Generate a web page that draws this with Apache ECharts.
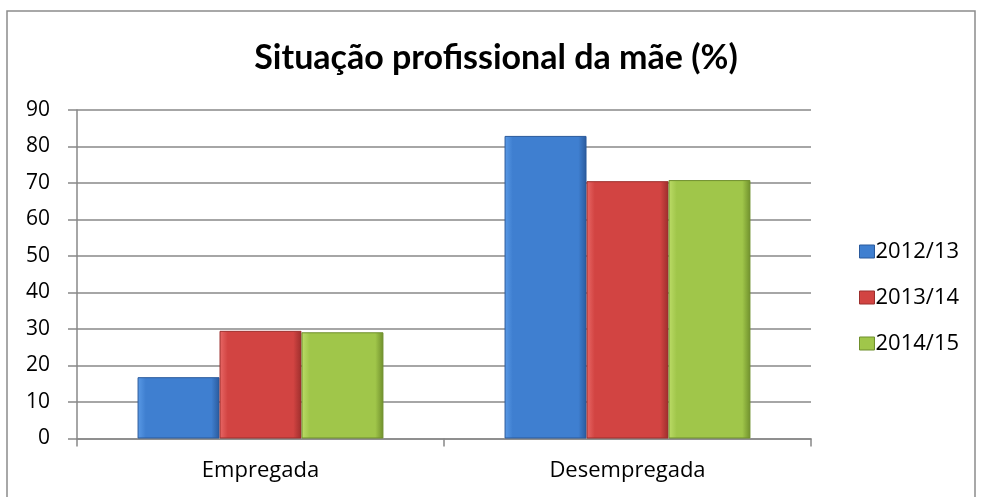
<!DOCTYPE html>
<html>
<head>
<meta charset="utf-8">
<script src="https://cdn.jsdelivr.net/npm/echarts@6/dist/echarts.min.js"></script>
<style>
    html, body { margin: 0; padding: 0; background: #fff; }
    #chart { width: 981px; height: 497px; }
</style>
</head>
<body>
<div id="chart"></div>
<script>

// Data
var categories = ['Empregada', 'Desempregada'];
var seriesNames = ['2012/13', '2013/14', '2014/15'];
var values2012 = [16.8, 82.9];
var values2013 = [29.5, 70.5];
var values2014 = [29.1, 70.8];

var palette = [
    { edge: '#2a5a9c', mid: '#3f7fd0', light: '#5a9ae6' },
    { edge: '#9c2e2c', mid: '#d24442', light: '#e86866' },
    { edge: '#6f8f2c', mid: '#a0c64a', light: '#bcdc68' }
];

var titleFont = 'Lato, "Open Sans", sans-serif';
var labelFont = '"Open Sans", Lato, sans-serif';

var bevel = function(p) {
    return {
        type: 'linear', x: 0, y: 0, x2: 1, y2: 0,
        colorStops: [
            { offset: 0, color: p.light },
            { offset: 0.1, color: p.mid },
            { offset: 0.9, color: p.mid },
            { offset: 1, color: p.edge }
        ]
    };
};

var makeSeries = function(name, data, i) {
    return {
        name: name,
        type: 'bar',
        data: data,
        barGap: '0%',
        barCategoryGap: '33%',
        itemStyle: {
            color: bevel(palette[i]),
            borderColor: palette[i].edge,
            borderWidth: 1
        }
    };
};

var chart = echarts.init(document.getElementById('chart'));

chart.setOption({
    animation: false,
    textStyle: { fontFamily: labelFont },

    title: {
        text: 'Situação profissional da mãe (%)',
        left: 491,
        textAlign: 'center',
        top: 36,
        textStyle: {
            fontFamily: titleFont,
            fontSize: 34,
            fontWeight: 'bold',
            color: '#000'
        }
    },

    // Outer frame
    graphic: [{
        type: 'rect',
        shape: { x: 7, y: 11, width: 968, height: 490 },
        style: { fill: 'none', stroke: '#8c8c8c', lineWidth: 1.5 },
        silent: true
    }],

    grid: {
        left: 77,
        right: 170,
        top: 110,
        bottom: 58.5
    },

    legend: {
        data: seriesNames.map(function(n, i) {
            return { name: n, itemStyle: { color: bevel(palette[i]), borderColor: palette[i].edge, borderWidth: 1 } };
        }),
        orient: 'vertical',
        left: 854,
        top: 235.5,
        itemWidth: 15,
        itemHeight: 13,
        itemGap: 24,
        icon: 'rect',
        textStyle: {
            fontFamily: labelFont,
            fontSize: 22,
            lineHeight: 22,
            color: '#000',
            padding: [0, 0, 0, -4]
        }
    },

    xAxis: {
        type: 'category',
        data: categories,
        axisLine: { lineStyle: { color: '#888', width: 1.5 } },
        axisTick: { show: true, length: 8, lineStyle: { color: '#888', width: 1.5 } },
        axisLabel: {
            color: '#000',
            fontSize: 22,
            margin: 21,
            fontFamily: labelFont
        }
    },

    yAxis: {
        type: 'value',
        min: 0,
        max: 90,
        interval: 10,
        axisLine: { show: true, lineStyle: { color: '#888', width: 1.5 } },
        axisTick: { show: true, length: 9, inside: false, lineStyle: { color: '#888', width: 1.5 } },
        axisLabel: {
            color: '#000',
            fontSize: 21,
            margin: 27,
            fontFamily: labelFont
        },
        splitLine: { lineStyle: { color: '#888', width: 1.5 } }
    },

    series: [
        makeSeries(seriesNames[0], values2012, 0),
        makeSeries(seriesNames[1], values2013, 1),
        makeSeries(seriesNames[2], values2014, 2)
    ]
});

</script>
</body>
</html>
